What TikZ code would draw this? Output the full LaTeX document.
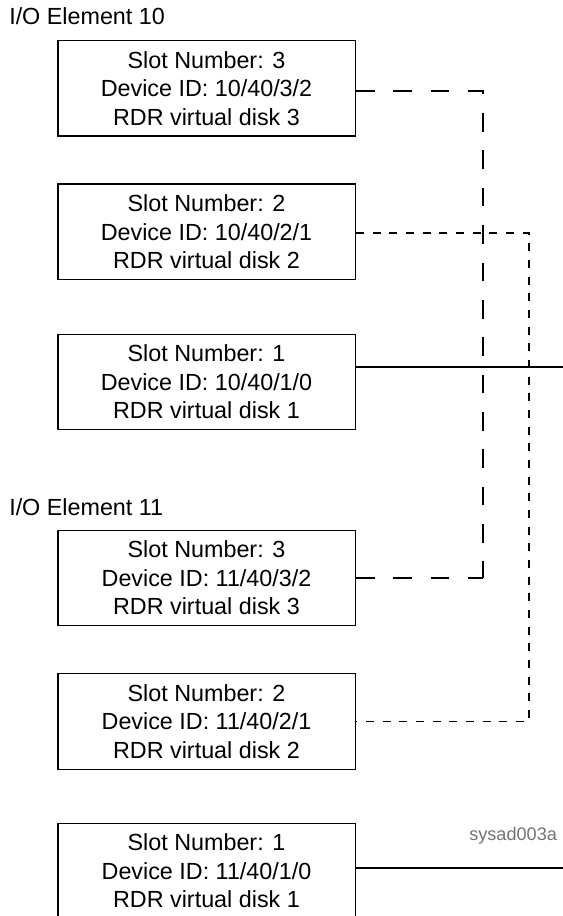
\documentclass[tikz,border=0pt]{standalone}
\usepackage{fontspec}
\setmainfont{Liberation Sans}
\usetikzlibrary{positioning}

\begin{document}
\begin{tikzpicture}[x=0.75pt, y=-0.75pt,
    slotbox/.style={draw, rectangle, line width=1pt, minimum width=223pt,
        minimum height=71.6pt, inner sep=0pt, align=center,
        font=\fontsize{17.5}{21.4}\selectfont},
    heading/.style={anchor=base west, inner sep=0pt,
        font=\fontsize{17.5}{21}\selectfont},
    wire/.style={line width=1pt},
    longdash/.style={line width=0.9pt, dash pattern=on 14pt off 14pt},
    shortdash/.style={line width=0.9pt, dash pattern=on 6pt off 6.5pt}]
\useasboundingbox (0,0) rectangle (563,916);
\node[heading] (io10) at (9,25) {I/O Element 10};
\node[slotbox] (s1) at (206.5,88.3) {Slot Number: 3\\Device ID: 10/40/3/2\\RDR virtual disk 3};
\node[slotbox, below=35pt of s1] (s2) {Slot Number: 2\\Device ID: 10/40/2/1\\RDR virtual disk 2};
\node[slotbox, below=40pt of s2] (s3) {Slot Number: 1\\Device ID: 10/40/1/0\\RDR virtual disk 1};
\node[heading] (io11) at (9,515) {I/O Element 11};
\node[slotbox] (s4) at (206.5,578) {Slot Number: 3\\Device ID: 11/40/3/2\\RDR virtual disk 3};
\node[slotbox, below=35pt of s4] (s5) {Slot Number: 2\\Device ID: 11/40/2/1\\RDR virtual disk 2};
\node[slotbox, below=39.5pt of s5] (s6) {Slot Number: 1\\Device ID: 11/40/1/0\\RDR virtual disk 1};
\node[anchor=base west, inner sep=0pt, text=black!55,
      font=\fontsize{13.6}{16}\selectfont] (tag) at (469,840) {sysad003a};
% bends and free ends
\coordinate (b1) at (483,91);
\coordinate (b2) at (529,233);
\coordinate (e3) at (563,367);
\coordinate (e6) at (563,868);
\draw[longdash] (s1.east |- b1) -- (b1) -- (b1 |- s4.east);
\draw[longdash] (s4.east) -- (b1 |- s4.east);
\draw[shortdash] (s2.east |- b2) -- (b2) |- (s5.east);
\draw[wire] (s3.east |- e3) -- (e3);
\draw[wire] (s6.east |- e6) -- (e6);
\end{tikzpicture}
\end{document}
